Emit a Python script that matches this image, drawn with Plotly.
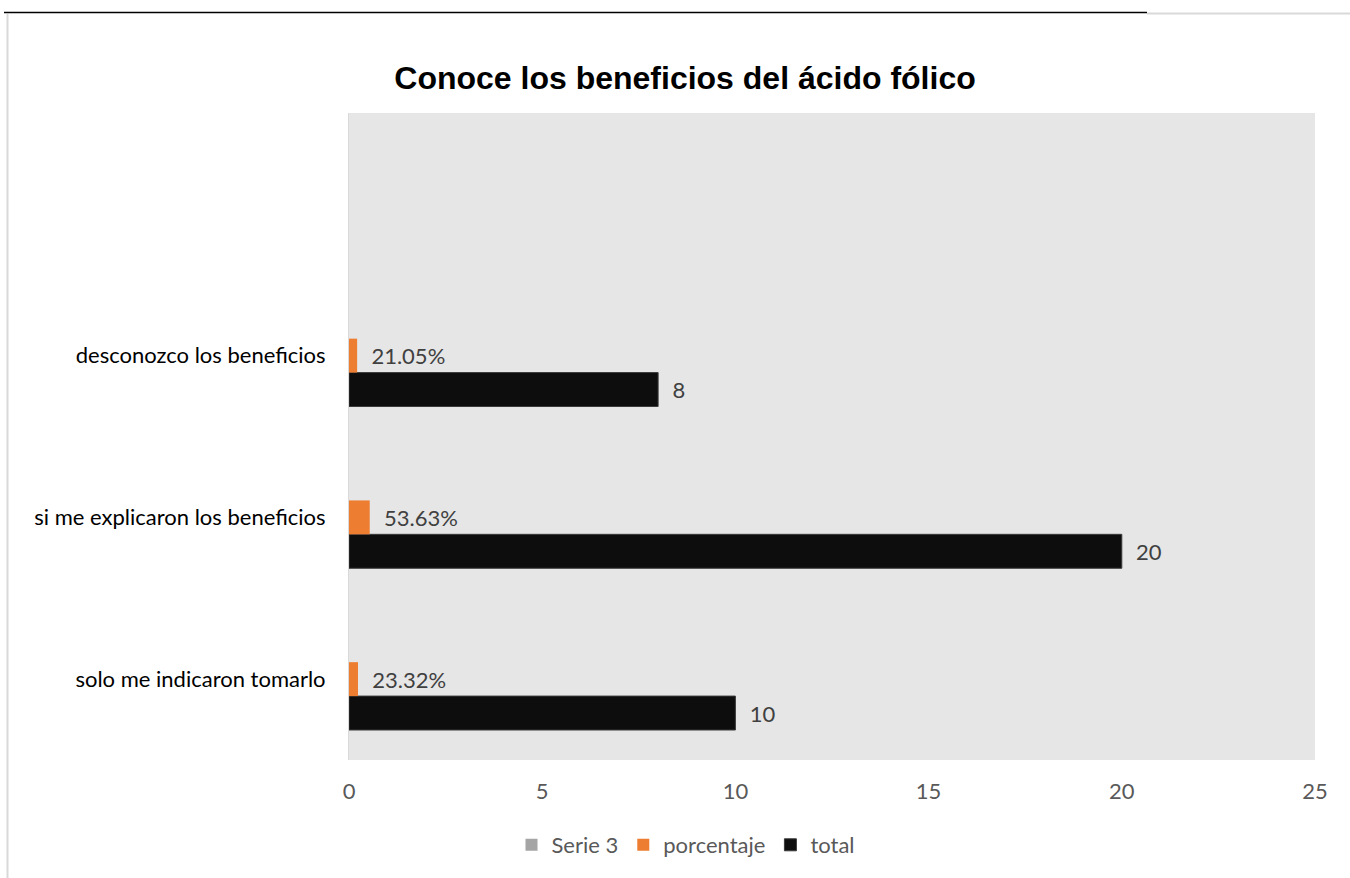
import plotly.graph_objects as go

# ---- data ----
categories = ["solo me indicaron tomarlo", "si me explicaron los beneficios",
              "desconozco los beneficios", " "]
total = [10, 20, 8, None]
porcentaje = [0.2332, 0.5363, 0.2105, None]
serie3 = [0, 0, 0, None]
x_ticks = [0, 5, 10, 15, 20, 25]

W, H = 1350, 878
L, R, T, B = 349, 35, 113, 118
PW, PH = W - L - R, H - T - B


def px_x(p):
    return (p - L) / PW


def px_y(p):
    return (H - B - p) / PH


FONT = "Lato"
NB = "\u00a0"

fig = go.Figure()
fig.add_trace(go.Bar(
    y=categories, x=total, name="total", orientation="h",
    marker=dict(color="#0d0d0d", line=dict(color="#3a3a3a", width=1)),
    texttemplate=NB * 2 + "%{x}", textposition="outside",
    textfont=dict(family=FONT, size=22, color="#404040"),
    constraintext="none", cliponaxis=False, hoverinfo="skip",
))
fig.add_trace(go.Bar(
    y=categories, x=porcentaje, name="porcentaje", orientation="h",
    marker=dict(color="#ed7d31", line=dict(width=0)),
    texttemplate=NB * 2 + "%{x:.2%}", textposition="outside",
    textfont=dict(family=FONT, size=22, color="#404040"),
    constraintext="none", cliponaxis=False, hoverinfo="skip",
))
fig.add_trace(go.Bar(
    y=categories, x=serie3, name="Serie 3", orientation="h",
    marker=dict(color="#a5a5a5", line=dict(width=0)),
    hoverinfo="skip",
))

shapes = [
    dict(type="line", xref="paper", yref="paper",
         x0=px_x(4), x1=px_x(1147), y0=px_y(12.5), y1=px_y(12.5),
         line=dict(color="#000000", width=1.5)),
    dict(type="line", xref="paper", yref="paper",
         x0=px_x(1147), x1=px_x(1350), y0=px_y(13.5), y1=px_y(13.5),
         line=dict(color="#d9d9d9", width=2)),
    dict(type="line", xref="paper", yref="paper",
         x0=px_x(7.5), x1=px_x(7.5), y0=px_y(14), y1=px_y(878),
         line=dict(color="#d9d9d9", width=2)),
]

fig.update_layout(
    width=W, height=H,
    margin=dict(l=L, r=R, t=T, b=B, autoexpand=False),
    paper_bgcolor="white", plot_bgcolor="#e6e6e6",
    barmode="group", bargap=0.371, bargroupgap=0,
    title=dict(text="<b>Conoce los beneficios del ácido fólico</b>",
               font=dict(family="Liberation Sans", size=32, color="#000000"),
               x=685 / W, xref="container", xanchor="center",
               y=1 - 78 / H, yref="container", yanchor="middle"),
    xaxis=dict(range=[0, 25], tickvals=x_ticks, showgrid=False, zeroline=False,
               showline=False, ticks="outside", ticklen=12,
               tickcolor="rgba(0,0,0,0)",
               tickfont=dict(family=FONT, size=22, color="#595959")),
    yaxis=dict(categoryorder="array", categoryarray=categories,
               showgrid=False, zeroline=False, showline=True,
               linecolor="#d9d9d9", linewidth=1,
               ticks="outside", ticklen=18, tickcolor="rgba(0,0,0,0)",
               tickfont=dict(family=FONT, size=22, color="#000000")),
    legend=dict(orientation="h", traceorder="reversed",
                x=686 / W, xref="container", xanchor="center",
                y=1 - 845 / H, yref="container", yanchor="middle",
                font=dict(family=FONT, size=22, color="#595959"),
                itemwidth=30, bgcolor="rgba(0,0,0,0)"),
    shapes=shapes,
    showlegend=True,
)

fig.write_html("out.html",
               config={"displayModeBar": False},
               post_script="document.body.style.margin='0';"
                           "document.body.style.overflow='hidden';")
